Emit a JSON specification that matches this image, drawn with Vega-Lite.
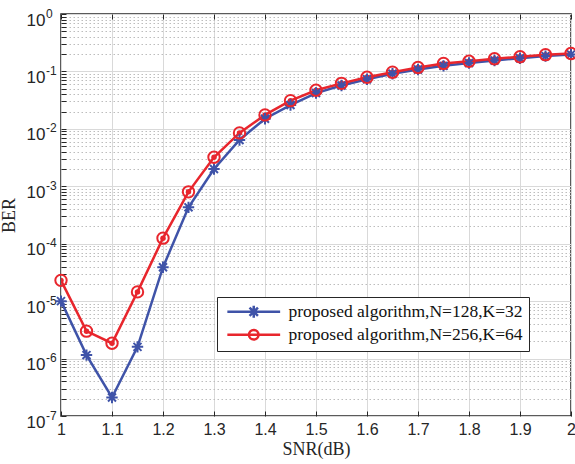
{
  "$schema": "https://vega.github.io/schema/vega-lite/v6.json",
  "width": 510,
  "height": 402,
  "autosize": "none",
  "padding": {"left": 61, "top": 14, "right": 4, "bottom": 48},
  "background": "white",
  "config": {
    "view": {"stroke": "#262626", "strokeWidth": 1.5},
    "axis": {"labelFont": "Liberation Sans", "labelFontSize": 17, "labelColor": "#262626", "titleFont": "Liberation Serif", "titleFontSize": 18, "titleFontWeight": "normal", "titleColor": "#262626", "tickColor": "#262626", "domain": false}
  },
  "data": {"values": [
    {"snr": 1.0, "ber": 1.0e-5, "series": "proposed algorithm,N=128,K=32"},
    {"snr": 1.05, "ber": 1.15e-6, "series": "proposed algorithm,N=128,K=32"},
    {"snr": 1.1, "ber": 2.1e-7, "series": "proposed algorithm,N=128,K=32"},
    {"snr": 1.15, "ber": 1.6e-6, "series": "proposed algorithm,N=128,K=32"},
    {"snr": 1.2, "ber": 3.9e-5, "series": "proposed algorithm,N=128,K=32"},
    {"snr": 1.25, "ber": 4.3e-4, "series": "proposed algorithm,N=128,K=32"},
    {"snr": 1.3, "ber": 2.0e-3, "series": "proposed algorithm,N=128,K=32"},
    {"snr": 1.35, "ber": 6.4e-3, "series": "proposed algorithm,N=128,K=32"},
    {"snr": 1.4, "ber": 1.5e-2, "series": "proposed algorithm,N=128,K=32"},
    {"snr": 1.45, "ber": 2.6e-2, "series": "proposed algorithm,N=128,K=32"},
    {"snr": 1.5, "ber": 4.2e-2, "series": "proposed algorithm,N=128,K=32"},
    {"snr": 1.55, "ber": 5.7e-2, "series": "proposed algorithm,N=128,K=32"},
    {"snr": 1.6, "ber": 7.3e-2, "series": "proposed algorithm,N=128,K=32"},
    {"snr": 1.65, "ber": 9.1e-2, "series": "proposed algorithm,N=128,K=32"},
    {"snr": 1.7, "ber": 0.108, "series": "proposed algorithm,N=128,K=32"},
    {"snr": 1.75, "ber": 0.125, "series": "proposed algorithm,N=128,K=32"},
    {"snr": 1.8, "ber": 0.14, "series": "proposed algorithm,N=128,K=32"},
    {"snr": 1.85, "ber": 0.155, "series": "proposed algorithm,N=128,K=32"},
    {"snr": 1.9, "ber": 0.17, "series": "proposed algorithm,N=128,K=32"},
    {"snr": 1.95, "ber": 0.185, "series": "proposed algorithm,N=128,K=32"},
    {"snr": 2.0, "ber": 0.198, "series": "proposed algorithm,N=128,K=32"},
    {"snr": 1.0, "ber": 2.3e-5, "series": "proposed algorithm,N=256,K=64"},
    {"snr": 1.05, "ber": 3.0e-6, "series": "proposed algorithm,N=256,K=64"},
    {"snr": 1.1, "ber": 1.85e-6, "series": "proposed algorithm,N=256,K=64"},
    {"snr": 1.15, "ber": 1.45e-5, "series": "proposed algorithm,N=256,K=64"},
    {"snr": 1.2, "ber": 1.25e-4, "series": "proposed algorithm,N=256,K=64"},
    {"snr": 1.25, "ber": 8.0e-4, "series": "proposed algorithm,N=256,K=64"},
    {"snr": 1.3, "ber": 3.2e-3, "series": "proposed algorithm,N=256,K=64"},
    {"snr": 1.35, "ber": 8.5e-3, "series": "proposed algorithm,N=256,K=64"},
    {"snr": 1.4, "ber": 1.75e-2, "series": "proposed algorithm,N=256,K=64"},
    {"snr": 1.45, "ber": 3.1e-2, "series": "proposed algorithm,N=256,K=64"},
    {"snr": 1.5, "ber": 4.7e-2, "series": "proposed algorithm,N=256,K=64"},
    {"snr": 1.55, "ber": 6.2e-2, "series": "proposed algorithm,N=256,K=64"},
    {"snr": 1.6, "ber": 7.9e-2, "series": "proposed algorithm,N=256,K=64"},
    {"snr": 1.65, "ber": 9.7e-2, "series": "proposed algorithm,N=256,K=64"},
    {"snr": 1.7, "ber": 0.117, "series": "proposed algorithm,N=256,K=64"},
    {"snr": 1.75, "ber": 0.138, "series": "proposed algorithm,N=256,K=64"},
    {"snr": 1.8, "ber": 0.15, "series": "proposed algorithm,N=256,K=64"},
    {"snr": 1.85, "ber": 0.166, "series": "proposed algorithm,N=256,K=64"},
    {"snr": 1.9, "ber": 0.18, "series": "proposed algorithm,N=256,K=64"},
    {"snr": 1.95, "ber": 0.196, "series": "proposed algorithm,N=256,K=64"},
    {"snr": 2.0, "ber": 0.205, "series": "proposed algorithm,N=256,K=64"}
  ]},
  "layer": [
    {
      "mark": {"type": "line", "strokeWidth": 2.5, "clip": true},
      "encoding": {
        "x": {"field": "snr", "type": "quantitative", "scale": {"domain": [1, 2], "nice": false, "zero": false},
          "axis": {"orient": "bottom", "title": "SNR(dB)", "values": [1, 1.1, 1.2, 1.3, 1.4, 1.5, 1.6, 1.7, 1.8, 1.9, 2], "labelExpr": "format(datum.value, '~g')", "labelFontSize": 16, "grid": true, "gridColor": "#d9d9d9", "gridWidth": 1, "tickSize": -5, "labelPadding": 10, "titlePadding": 3, "labelFlush": false}},
        "y": {"field": "ber", "type": "quantitative", "scale": {"type": "log", "domain": [1e-7, 1], "nice": false},
          "axis": {"orient": "left", "title": "BER", "titlePadding": 8,
            "values": [1e-7, 2e-7, 3e-7, 4e-7, 5e-7, 6e-7, 7e-7, 8e-7, 9e-7, 1e-6, 2e-6, 3e-6, 4e-6, 5e-6, 6e-6, 7e-6, 8e-6, 9e-6, 1e-5, 2e-5, 3e-5, 4e-5, 5e-5, 6e-5, 7e-5, 8e-5, 9e-5, 1e-4, 2e-4, 3e-4, 4e-4, 5e-4, 6e-4, 7e-4, 8e-4, 9e-4, 1e-3, 2e-3, 3e-3, 4e-3, 5e-3, 6e-3, 7e-3, 8e-3, 9e-3, 0.01, 0.02, 0.03, 0.04, 0.05, 0.06, 0.07, 0.08, 0.09, 0.1, 0.2, 0.3, 0.4, 0.5, 0.6, 0.7, 0.8, 0.9, 1],
            "labelExpr": "abs(log(datum.value)/LN10 - round(log(datum.value)/LN10)) < 0.001 ? '10' : ''",
            "labelOffset": 6,
            "grid": true,
            "gridColor": {"condition": {"test": "abs(log(datum.value)/LN10 - round(log(datum.value)/LN10)) < 0.001", "value": "#d9d9d9"}, "value": "#bdbdbd"},
            "gridDash": {"condition": {"test": "abs(log(datum.value)/LN10 - round(log(datum.value)/LN10)) < 0.001", "value": []}, "value": [1.5, 2.5]},
            "gridWidth": 1,
            "tickSize": -5,
            "labelPadding": 21, "labelFlush": false}},
        "color": {"field": "series", "type": "nominal", "scale": {"range": ["#3f53a8", "#e8262d"]},
          "legend": {"orient": "none", "legendX": 156, "legendY": 283, "title": null, "fillColor": "white", "strokeColor": "#262626", "padding": 6, "labelFont": "Liberation Serif", "labelFontSize": 17.5, "labelLimit": 0, "labelColor": "#111111", "symbolSize": 144, "symbolOffset": 22, "labelOffset": 26, "rowPadding": 1, "symbolStrokeWidth": 2.5, "symbolFillColor": "transparent",
            "encode": {"symbols": {"update": {"shape": {"signal": "datum.value == 'proposed algorithm,N=128,K=32' ? 'M-4.4,0L4.4,0M-1,0L1,0M0,-1L0,1M-0.7,-0.7L0.7,0.7M-0.7,0.7L0.7,-0.7' : 'M-4.4,0L4.4,0M0.8,0A0.8,0.8 0 1,1 -0.8,0A0.8,0.8 0 1,1 0.8,0'"}, "fill": {"value": "transparent"}, "fillOpacity": {"value": 0}}}}}},
        "shape": {"field": "series", "type": "nominal", "scale": {"range": ["M-1,0L1,0M0,-1L0,1M-0.7,-0.7L0.7,0.7M-0.7,0.7L0.7,-0.7", "circle"]}}
      }
    },
    {
      "mark": {"type": "point", "filled": false, "size": 130, "strokeWidth": 2, "opacity": 1},
      "encoding": {
        "x": {"field": "snr", "type": "quantitative",
          "axis": {"orient": "top", "title": null, "values": [1, 1.1, 1.2, 1.3, 1.4, 1.5, 1.6, 1.7, 1.8, 1.9, 2], "labels": false, "grid": false, "tickSize": -5}},
        "y": {"field": "ber", "type": "quantitative",
          "axis": {"orient": "left", "title": null, "grid": false, "ticks": false,
            "values": [1e-7, 1e-6, 1e-5, 1e-4, 1e-3, 1e-2, 1e-1, 1],
            "labelExpr": "['0','-1','-2','-3','-4','-5','-6','-7'][-round(log(datum.value)/LN10)]",
            "labelFontSize": 12, "labelAlign": "left", "labelPadding": 15.5, "labelOffset": -1, "labelFlush": false}},
        "color": {"field": "series", "type": "nominal"},
        "shape": {"field": "series", "type": "nominal"}
      }
    }
  ],
  "resolve": {"axis": {"x": "independent", "y": "independent"}}
}
